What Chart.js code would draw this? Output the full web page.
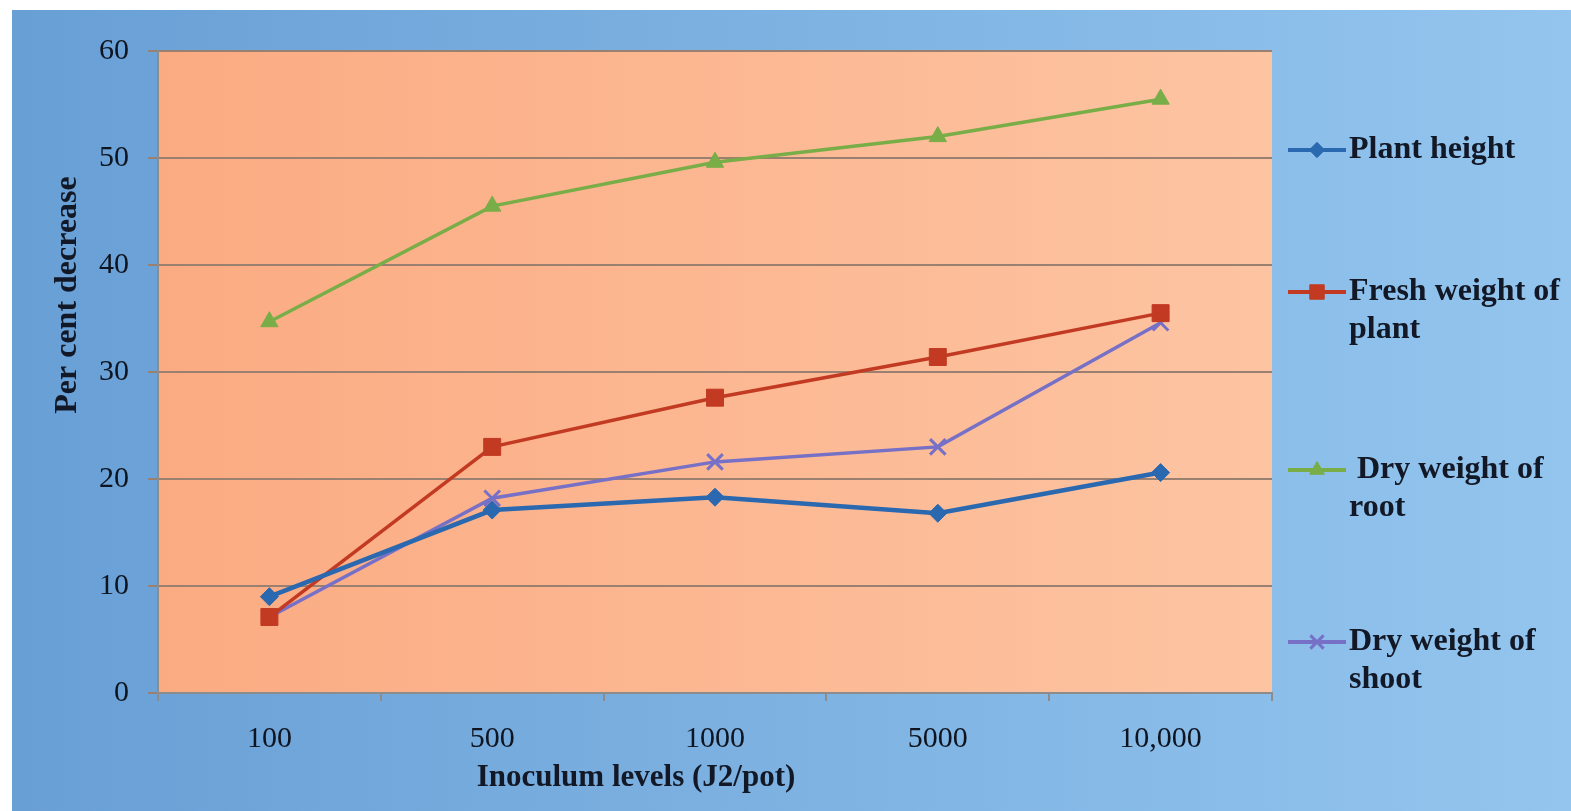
<!DOCTYPE html>
<html>
<head>
<meta charset="utf-8">
<script src="https://cdn.jsdelivr.net/npm/chart.js@4.4.1/dist/chart.umd.min.js"></script>
<style>
  html, body { margin: 0; padding: 0; background: #fff; }
  #wrap { width: 1571px; height: 811px; position: relative; }
</style>
</head>
<body>
<div id="wrap"><canvas id="chart"></canvas></div>
<script>
// inoculum levels on the x axis
const levels = ['100', '500', '1000', '5000', '10,000'];

// per cent decrease
const plantHeight = [9.0, 17.1, 18.3, 16.8, 20.6];
const freshWeight = [7.1, 23.0, 27.6, 31.4, 35.5];
const dryRoot = [34.7, 45.5, 49.6, 52.0, 55.5];
const dryShoot = [7.1, 18.2, 21.6, 23.0, 34.6];

const seriesNames = ['Plant height', 'Fresh weight of plant', ' Dry weight of root', 'Dry weight of shoot'];
const yTicks = [0, 10, 20, 30, 40, 50, 60];

const xTitle = 'Inoculum levels (J2/pot)';
const yTitle = 'Per cent decrease';

const SERIF = '"Liberation Serif", "Times New Roman", serif';
const legendRows = [150, 292, 470, 642];

const backdrop = {
    id: 'backdrop',
    beforeDraw(chart) {
        const { ctx, chartArea: a, width, height } = chart;
        ctx.save();
        ctx.fillStyle = '#ffffff';
        ctx.fillRect(0, 0, width, height);
        const blue = ctx.createLinearGradient(12, 0, width, 0);
        blue.addColorStop(0, '#689fd5');
        blue.addColorStop(1, '#93c5ee');
        ctx.fillStyle = blue;
        ctx.fillRect(12, 10, width - 12, height - 10);
        const orange = ctx.createLinearGradient(a.left, 0, a.right, 0);
        orange.addColorStop(0, '#fbab82');
        orange.addColorStop(1, '#fdc4a2');
        ctx.fillStyle = orange;
        ctx.fillRect(a.left, a.top, a.right - a.left, a.bottom - a.top);
        ctx.restore();
    },
    afterDraw(chart) {
        const { ctx } = chart;
        ctx.save();
        ctx.fillStyle = '#121826';
        ctx.font = 'bold 31px ' + SERIF;
        ctx.textAlign = 'center';
        ctx.textBaseline = 'middle';
        ctx.fillText(xTitle, 636, 778);
        ctx.translate(68, 295);
        ctx.rotate(-Math.PI / 2);
        ctx.font = 'bold 32px ' + SERIF;
        ctx.fillText(yTitle, 0, 0);
        ctx.restore();

        // legend on the right, wrapped like the original
        ctx.save();
        ctx.font = 'bold 32px ' + SERIF;
        ctx.textBaseline = 'middle';
        chart.data.datasets.forEach((ds, i) => {
            const y = legendRows[i];
            ctx.strokeStyle = ds.borderColor;
            ctx.lineWidth = 4;
            ctx.beginPath();
            ctx.moveTo(1288, y);
            ctx.lineTo(1346, y);
            ctx.stroke();
            ctx.fillStyle = ds.pointBackgroundColor;
            ctx.strokeStyle = ds.pointBorderColor;
            ctx.lineWidth = ds.pointBorderWidth;
            Chart.helpers.drawPoint(ctx, {
                pointStyle: ds.pointStyle,
                radius: ds.pointRadius * 0.85,
                borderWidth: ds.pointBorderWidth
            }, 1317, y);

            const words = ds.label.split(' ');
            const lines = [];
            let cur = '';
            words.forEach((w, k) => {
                const test = k === 0 ? w : cur + ' ' + w;
                if (ctx.measureText(test).width > 222 && cur.trim()) {
                    lines.push(cur);
                    cur = w;
                } else {
                    cur = test;
                }
            });
            lines.push(cur);
            ctx.fillStyle = '#121826';
            lines.forEach((t, k) => ctx.fillText(t, 1349, y + k * 38));
        });
        ctx.restore();
    }
};

function series(label, data, color, style, radius, width) {
    return {
        label: label,
        data: data,
        borderColor: color,
        backgroundColor: color,
        pointBackgroundColor: color,
        pointBorderColor: color,
        pointStyle: style,
        pointRadius: radius,
        pointBorderWidth: style === 'crossRot' ? 3 : 1,
        borderWidth: width,
        tension: 0
    };
}

new Chart(document.getElementById('chart'), {
    type: 'line',
    data: {
        labels: levels,
        datasets: [
            series(seriesNames[0], plantHeight, '#2a68b0', 'rectRot', 9, 4.5),
            series(seriesNames[1], freshWeight, '#c23a22', 'rect', 12, 3.5),
            series(seriesNames[2], dryRoot, '#78ad48', 'triangle', 10, 3.5),
            series(seriesNames[3], dryShoot, '#7670c6', 'crossRot', 11, 3.5)
        ]
    },
    options: {
        responsive: true,
        maintainAspectRatio: false,
        animation: false,
        layout: { padding: { left: 12, top: 51, right: 299, bottom: 0 } },
        plugins: { legend: { display: false }, tooltip: { enabled: false } },
        scales: {
            x: {
                offset: true,
                afterFit: (s) => { s.height = 118; },
                grid: { offset: true, drawOnChartArea: false, color: '#8c8c8c', tickLength: 8, lineWidth: 2 },
                border: { color: '#8c8c8c', width: 2 },
                ticks: { color: '#0e1420', padding: 20, font: { family: SERIF, size: 30 } }
            },
            y: {
                min: 0,
                max: 60,
                afterFit: (s) => { s.width = 146; },
                afterBuildTicks: (s) => { s.ticks = yTicks.map(v => ({ value: v })); },
                grid: { color: '#9a8070', lineWidth: 2, tickLength: 10 },
                border: { color: '#8c8c8c', width: 2 },
                ticks: { color: '#0e1420', padding: 19, font: { family: SERIF, size: 30 } }
            }
        }
    },
    plugins: [backdrop]
});
</script>
</body>
</html>
